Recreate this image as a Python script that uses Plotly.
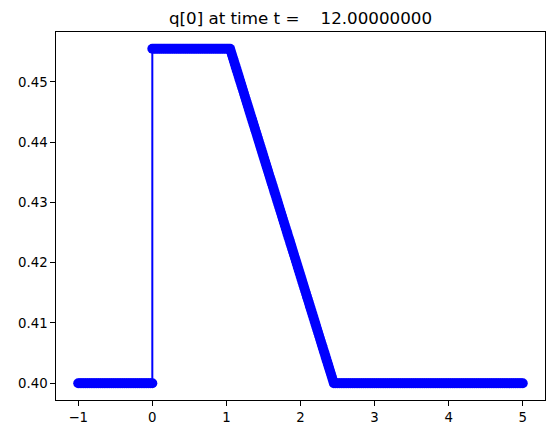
import numpy as np
import plotly.graph_objects as go

# Sample positions (mesh segments)
x_left = np.linspace(-1.0, 0.0, 41)
x_plateau = np.linspace(0.0, 1.025, 42)
x_ramp = np.linspace(1.05, 2.45, 113)
x_right = np.linspace(2.475, 5.0, 102)
x = np.concatenate([x_left, x_plateau, x_ramp, x_right])

# Values
left_state = [0.4] * 41
plateau = [0.4555] * 42
ramp = [0.45550, 0.45500, 0.45451, 0.45401, 0.45352, 0.45302, 0.45253, 0.45203,
        0.45154, 0.45104, 0.45054, 0.45005, 0.44955, 0.44906, 0.44856, 0.44807,
        0.44757, 0.44708, 0.44658, 0.44608, 0.44559, 0.44509, 0.44460, 0.44410,
        0.44361, 0.44311, 0.44262, 0.44212, 0.44163, 0.44113, 0.44063, 0.44014,
        0.43964, 0.43915, 0.43865, 0.43816, 0.43766, 0.43717, 0.43667, 0.43617,
        0.43568, 0.43518, 0.43469, 0.43419, 0.43370, 0.43320, 0.43271, 0.43221,
        0.43171, 0.43122, 0.43072, 0.43023, 0.42973, 0.42924, 0.42874, 0.42825,
        0.42775, 0.42725, 0.42676, 0.42626, 0.42577, 0.42527, 0.42478, 0.42428,
        0.42379, 0.42329, 0.42280, 0.42230, 0.42180, 0.42131, 0.42081, 0.42032,
        0.41982, 0.41933, 0.41883, 0.41834, 0.41784, 0.41734, 0.41685, 0.41635,
        0.41586, 0.41536, 0.41487, 0.41437, 0.41388, 0.41338, 0.41288, 0.41239,
        0.41189, 0.41140, 0.41090, 0.41041, 0.40991, 0.40942, 0.40892, 0.40842,
        0.40793, 0.40743, 0.40694, 0.40644, 0.40595, 0.40545, 0.40496, 0.40446,
        0.40396, 0.40347, 0.40297, 0.40248, 0.40198, 0.40149, 0.40099, 0.40050,
        0.40000]
right_state = [0.4] * 102
q0 = left_state + plateau + ramp + right_state

x_ticks = [-1, 0, 1, 2, 3, 4, 5]
x_ticktext = ["\u22121", "0", "1", "2", "3", "4", "5"]
y_ticks = [0.40, 0.41, 0.42, 0.43, 0.44, 0.45]
title = "q[0] at time t =\u00a0\u00a0\u00a0\u00a012.00000000"

x_start, x_end = float(x.min()), float(x.max())
ymin, ymax = min(q0), max(q0)
ypad = 0.05 * (ymax - ymin)
xpad = 0.05 * (x_end - x_start)

fig = go.Figure()
fig.add_trace(go.Scatter(
    x=x, y=q0, mode="lines+markers",
    line=dict(color="#0000ff", width=2),
    marker=dict(color="#0000ff", size=10, line=dict(width=0)),
    showlegend=False,
))

axis_common = dict(
    showline=True, linecolor="black", linewidth=1.07, mirror=True,
    ticks="outside", ticklen=4.7, tickwidth=1.07, tickcolor="black",
    showgrid=False, zeroline=False,
    tickfont=dict(family="DejaVu Sans", size=13.3, color="black"),
)

# page body has an 8px default margin, so the figure is drawn offset by 8px
fig.update_layout(
    width=548, height=427,
    margin=dict(l=43, r=10, t=24, b=34, pad=0),
    paper_bgcolor="white", plot_bgcolor="white",
    title=dict(text=title, x=0.5, xref="paper", y=1 - 10 / 427,
               yref="container", xanchor="center", yanchor="middle",
               font=dict(family="DejaVu Sans", size=16.7, color="black")),
    xaxis=dict(range=[x_start - xpad, x_end + xpad], tickvals=x_ticks,
               ticktext=x_ticktext, **axis_common),
    yaxis=dict(range=[ymin - ypad, ymax + ypad], tickvals=y_ticks,
               tickformat=".2f", **axis_common),
)

fig.write_html("out.html")
